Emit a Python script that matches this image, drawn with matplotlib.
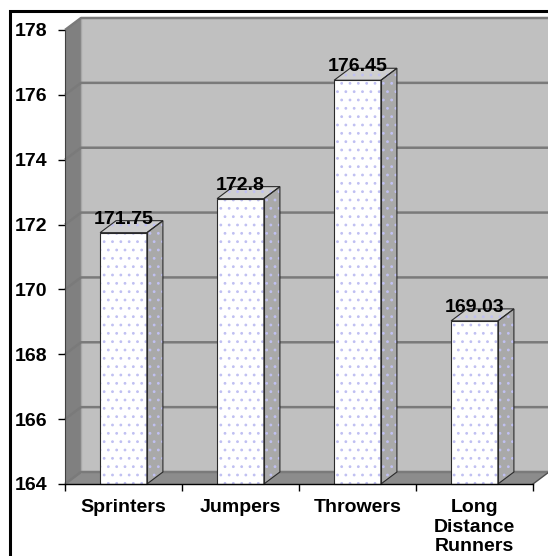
import numpy as np
import matplotlib
matplotlib.use("Agg")
import matplotlib.pyplot as plt
from matplotlib.patches import Polygon, Rectangle

# average height (cm) per event group
groups = ["Sprinters", "Jumpers", "Throwers", "Long\nDistance\nRunners"]
heights = [171.75, 172.8, 176.45, 169.03]
value_labels = ["171.75", "172.8", "176.45", "169.03"]
y_ticks = [164, 166, 168, 170, 172, 174, 176, 178]

plt.rcParams["font.family"] = ["Liberation Sans", "DejaVu Sans"]
plt.rcParams["font.weight"] = "bold"
plt.rcParams["hatch.linewidth"] = 0.8

W, H = 548, 556
fig = plt.figure(figsize=(W / 100, H / 100), dpi=100, facecolor="white")

# plot box in pixels (front plane of the 3d box)
left_px, right_px, top_px, bot_px = 65, 533, 30, 484
ax = fig.add_axes([left_px / W, (H - bot_px) / H,
                   (right_px - left_px) / W, (bot_px - top_px) / H])
ax.set_facecolor("none")
ymin, ymax = 164, 178
ncat = len(groups)
ax.set_xlim(0, ncat)
ax.set_ylim(ymin, ymax)

# depth of the 3d effect, converted from pixels to data units
dx = 16 / ((right_px - left_px) / ncat)
dy = 12 / ((bot_px - top_px) / (ymax - ymin))

FS = 14


def face(pts, fc, z, ec="none", lw=0):
    p = Polygon(pts, closed=True, facecolor=fc, edgecolor=ec, lw=lw,
                zorder=z, clip_on=False)
    ax.add_patch(p)


def dotted(pts, z):
    p = Polygon(pts, closed=True, facecolor="none", edgecolor="#c0c0f2",
                lw=0, hatch="..", zorder=z, clip_on=False)
    ax.add_patch(p)


# walls and floor
face([(dx, ymin + dy), (ncat + dx, ymin + dy), (ncat + dx, ymax + dy), (dx, ymax + dy)],
     "#c0c0c0", 1)
face([(0, ymin), (dx, ymin + dy), (dx, ymax + dy), (0, ymax)], "#808080", 1)
face([(0, ymin), (ncat, ymin), (ncat + dx, ymin + dy), (dx, ymin + dy)], "#8c8c8c", 1)
ax.plot([dx, dx], [ymin + dy, ymax + dy], color="#a8a8a8", lw=1, zorder=1.5, clip_on=False)

# gridlines on the back wall and left wall
for v in y_ticks:
    ax.plot([0, dx, ncat + dx], [v, v + dy, v + dy], color="#7a7a7a", lw=1.8,
            zorder=2, clip_on=False, solid_capstyle="butt")
ax.plot([ncat, ncat + dx], [ymin, ymin + dy], color="#505050", lw=1, zorder=2, clip_on=False)

# 3d bars
bw = 0.4
edge = "#2a2a2a"
for i, v in enumerate(heights):
    c = i + 0.5
    x0, x1 = c - bw / 2, c + bw / 2
    side = [(x1, ymin), (x1 + dx, ymin + dy), (x1 + dx, v + dy), (x1, v)]
    top = [(x0, v), (x1, v), (x1 + dx, v + dy), (x0 + dx, v + dy)]
    front = [(x0, ymin), (x1, ymin), (x1, v), (x0, v)]
    face(side, "#a9a9a9", 3)
    dotted(side, 3.1)
    face(top, "#cfcfcf", 3)
    dotted(top, 3.1)
    face(front, "white", 3)
    dotted(front, 3.1)
    for pts in (side, top, front):
        face(pts, "none", 3.2, ec=edge, lw=0.8)
    ax.annotate(value_labels[i], (c, v + dy), xytext=(0, -2.2),
                textcoords="offset points", ha="center", va="baseline",
                fontsize=FS, fontweight="bold", zorder=5, annotation_clip=False)

# axes styling
for s in ("top", "right"):
    ax.spines[s].set_visible(False)
ax.spines["left"].set_color("#404040")
ax.spines["left"].set_linewidth(0.8)
ax.spines["bottom"].set_color("black")
ax.spines["bottom"].set_linewidth(1)
ax.spines["left"].set_zorder(4)
ax.spines["bottom"].set_zorder(4)

ax.set_yticks(y_ticks)
ax.set_yticklabels([str(t) for t in y_ticks], fontsize=FS, fontweight="bold")
ax.tick_params(axis="y", length=5, width=1, pad=8, direction="out")

ax.set_xticks(np.arange(ncat) + 0.5)
ax.set_xticklabels(groups, fontsize=FS, fontweight="bold", linespacing=1.2, va="top")
ax.set_xticks(np.arange(ncat + 1), minor=True)
ax.tick_params(axis="x", which="major", length=0, pad=11)
ax.tick_params(axis="x", which="minor", length=5, width=1, direction="out")

# border around the chart area
fig.patches.append(Rectangle((10 / W, -0.05), 1.2, 1.05 - 11 / H, transform=fig.transFigure,
                             fill=False, edgecolor="black", lw=2.2, zorder=10))

fig.savefig("out.png", dpi=100, facecolor="white")
